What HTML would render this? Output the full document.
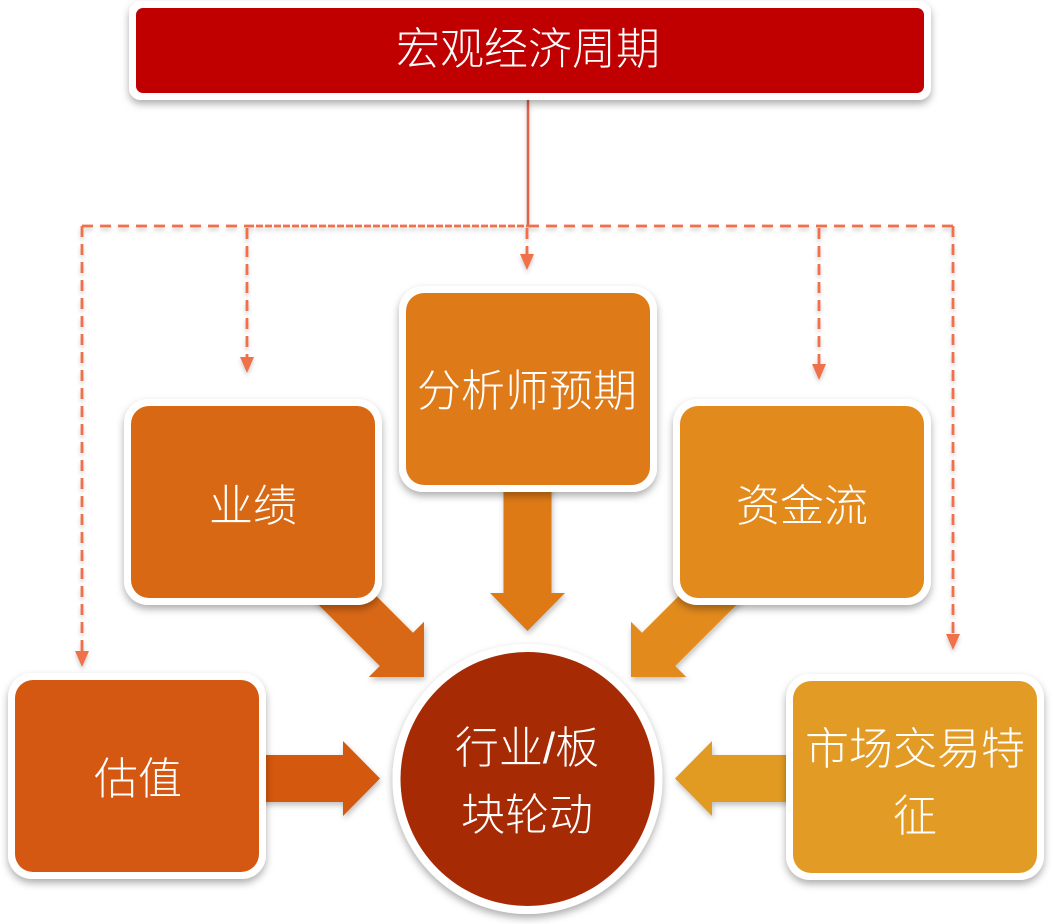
<!DOCTYPE html>
<html>
<head>
<meta charset="utf-8">
<style>
  html,body{margin:0;padding:0;background:#ffffff;}
  body{width:1053px;height:924px;overflow:hidden;}
  svg{display:block;}
  text{font-family:"Liberation Sans","Noto Sans CJK SC","WenQuanYi Zen Hei",sans-serif;fill:#ffffff;font-size:44px;font-weight:300;}
</style>
</head>
<body>
<svg width="1053" height="924" viewBox="0 0 1053 924" xmlns="http://www.w3.org/2000/svg">
  <defs>
    <filter id="sh" x="-20%" y="-20%" width="140%" height="150%">
      <feDropShadow dx="0" dy="4" stdDeviation="4" flood-color="#000" flood-opacity="0.32"/>
    </filter>
    <filter id="sha" x="-20%" y="-20%" width="140%" height="150%">
      <feDropShadow dx="1" dy="3" stdDeviation="3" flood-color="#000" flood-opacity="0.25"/>
    </filter>
    <filter id="shl" x="-5%" y="-5%" width="110%" height="110%">
      <feDropShadow dx="0" dy="3" stdDeviation="2" flood-color="#000" flood-opacity="0.2"/>
    </filter>
  </defs>

  <!-- dashed connectors -->
  <g filter="url(#shl)" fill="none" stroke="#EF6F4A" stroke-width="2.8">
    <line x1="528" y1="100" x2="528" y2="226" stroke="#E0604A" stroke-width="2.5"/>
    <line x1="82" y1="226" x2="247" y2="226" stroke-dasharray="11 7"/>
    <line x1="247" y1="226" x2="528" y2="226" stroke-dasharray="7 2"/>
    <line x1="528" y1="226" x2="953" y2="226" stroke-dasharray="11 7"/>
    <line x1="82" y1="226" x2="82" y2="652" stroke-dasharray="11 7"/>
    <line x1="247" y1="228" x2="247" y2="358" stroke-dasharray="11 7"/>
    <line x1="527" y1="228" x2="527" y2="256" stroke-dasharray="11 7"/>
    <line x1="819" y1="228" x2="819" y2="366" stroke-dasharray="11 7"/>
    <line x1="953" y1="226" x2="953" y2="636" stroke-dasharray="11 7"/>
  </g>
  <g fill="#EF6F4A" filter="url(#shl)">
    <polygon points="75,651 89,651 82,667"/>
    <polygon points="240,357 254,357 247,373"/>
    <polygon points="520,254 534,254 527,270"/>
    <polygon points="812,364 826,364 819,380"/>
    <polygon points="946,634 960,634 953,650"/>
  </g>

  <!-- block arrows (drawn below boxes) -->
  <g filter="url(#sha)">
    <!-- 业绩 diagonal -->
    <polygon fill="#D96814" points="328.1,547.9 413,632.8 424,621.8 424,677 368.8,677 379.8,666 294.9,581.1"/>
    <!-- 资金流 diagonal -->
    <polygon fill="#E28A1C" points="726.9,547.9 642,632.8 631,621.8 631,677 686.2,677 675.2,666 760.1,581.1"/>
    <!-- 分析师 down -->
    <polygon fill="#DE7A18" points="503.5,470 551.5,470 551.5,593 565,593 527.5,631 490,593 503.5,593"/>
    <!-- 估值 right -->
    <polygon fill="#D45811" points="240,755 343,755 343,741 380,778.5 343,816 343,802 240,802"/>
    <!-- 市场 left -->
    <polygon fill="#E29B24" points="815,755 712,755 712,741 675,778.5 712,816 712,802 815,802"/>
  </g>

  <!-- top box -->
  <g filter="url(#sh)">
    <rect x="129" y="1" width="802" height="99" rx="12" fill="#ffffff"/>
  </g>
  <rect x="136" y="8" width="788" height="85" rx="7" fill="#C00000"/>
  <text x="528" y="64" text-anchor="middle">宏观经济周期</text>

  <!-- boxes -->
  <g filter="url(#sh)" fill="#ffffff">
    <rect x="399" y="286" width="258" height="206" rx="24"/>
    <rect x="124" y="399" width="258" height="206" rx="24"/>
    <rect x="673" y="399" width="258" height="206" rx="24"/>
    <rect x="8" y="673" width="258" height="206" rx="24"/>
    <rect x="786" y="674" width="258" height="206" rx="24"/>
  </g>
  <rect x="406" y="293" width="244" height="192" rx="18" fill="#DE7A18"/>
  <rect x="131" y="406" width="244" height="192" rx="18" fill="#D96814"/>
  <rect x="680" y="406" width="244" height="192" rx="18" fill="#E28A1C"/>
  <rect x="15" y="680" width="244" height="192" rx="18" fill="#D45811"/>
  <rect x="793" y="681" width="244" height="192" rx="18" fill="#E29B24"/>

  <text x="527" y="406" text-anchor="middle">分析师预期</text>
  <text x="253" y="521" text-anchor="middle">业绩</text>
  <text x="802" y="521" text-anchor="middle">资金流</text>
  <text x="138" y="794" text-anchor="middle">估值</text>
  <text x="915" y="764" text-anchor="middle">市场交易特</text>
  <text x="915" y="831" text-anchor="middle">征</text>

  <!-- center circle -->
  <g filter="url(#sh)">
    <circle cx="527.5" cy="779" r="135" fill="#ffffff"/>
  </g>
  <circle cx="527.5" cy="779" r="127" fill="#A62A04"/>
  <text x="527" y="763" text-anchor="middle">行业/板</text>
  <text x="527" y="830" text-anchor="middle">块轮动</text>
</svg>
</body>
</html>
